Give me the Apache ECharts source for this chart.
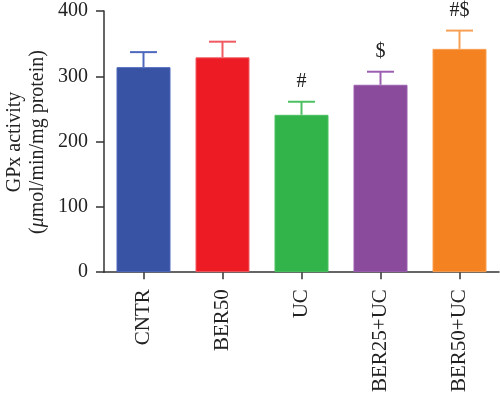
<!DOCTYPE html>
<html>
<head>
<meta charset="utf-8">
<script src="https://cdn.jsdelivr.net/npm/echarts@6/dist/echarts.min.js"></script>
<style>html,body{margin:0;padding:0;background:#fff}#c{width:500px;height:395px}</style>
</head>
<body>
<div id="c"></div>
<script>
var categories = ['CNTR', 'BER50', 'UC', 'BER25+UC', 'BER50+UC'];
var means = [314, 329, 241, 287, 342];
var sem = [23, 24, 20, 20, 28];
var marks = ['', '', '#', '$', '#$'];
var yTicks = [0, 100, 200, 300, 400];
var barColors = ['#3953a4', '#ed1c24', '#33b44a', '#8b4b9c', '#f58220'];
var errColors = ['#4d68bd', '#f05a62', '#4cc062', '#9b5fb0', '#f7a055'];

var FONT = '"Liberation Serif", "DejaVu Serif", serif';
var chart = echarts.init(document.getElementById('c'), null, {renderer: 'canvas'});
chart.setOption({
  animation: false,
  grid: {left: 104, right: 1, top: 11, bottom: 120, containLabel: false},
  graphic: [{
    type: 'text',
    x: 26, y: 142,
    rotation: Math.PI / 2,
    style: {
      text: '{a|GPx activity}\n{a|(}{i|μ}{a|mol/min/mg protein)}',
      align: 'center',
      verticalAlign: 'middle',
      fontSize: 20,
      fontFamily: FONT,
      fill: '#222',
      lineHeight: 23,
      rich: {
        a: {fontSize: 20, fontFamily: FONT, fill: '#222', lineHeight: 23},
        i: {fontSize: 20, fontFamily: FONT, fontStyle: 'italic', fill: '#222', lineHeight: 23}
      }
    }
  }],
  xAxis: {
    type: 'category',
    data: categories,
    axisLine: {lineStyle: {color: '#333', width: 1.5}},
    axisTick: {show: true, alignWithLabel: true, length: 7, lineStyle: {color: '#333', width: 1.5}},
    axisLabel: {rotate: 90, margin: 17, color: '#222', fontSize: 21, fontFamily: FONT, interval: 0}
  },
  yAxis: {
    type: 'value',
    min: 0, max: 400, interval: 100,
    splitLine: {show: false},
    axisLine: {show: true, lineStyle: {color: '#333', width: 1.5}},
    axisTick: {show: true, inside: false, length: 8, lineStyle: {color: '#333', width: 1.5}},
    axisLabel: {margin: 16, color: '#222', fontSize: 20, fontFamily: FONT,
      formatter: function (v) { return yTicks.indexOf(v) >= 0 ? String(v) : ''; }}
  },
  series: [
    {
      type: 'bar',
      barWidth: 54,
      data: means.map(function (v, i) {
        return {value: v, itemStyle: {color: barColors[i], borderColor: errColors[i], borderWidth: 1}};
      }),
      z: 2
    },
    {
      type: 'custom',
      z: 3,
      data: means.map(function (v, i) { return [i, v, v + sem[i]]; }),
      renderItem: function (params, api) {
        var i = api.value(0);
        var base = api.coord([i, api.value(1)]);
        var top = api.coord([i, api.value(2)]);
        var half = 13.5;
        var col = errColors[i];
        var children = [
          {type: 'line', shape: {x1: base[0], y1: base[1], x2: top[0], y2: top[1]}, style: {stroke: col, lineWidth: 2}},
          {type: 'line', shape: {x1: top[0] - half, y1: top[1], x2: top[0] + half, y2: top[1]}, style: {stroke: col, lineWidth: 2}}
        ];
        if (marks[i]) {
          children.push({type: 'text', style: {text: marks[i], x: top[0], y: top[1] - 20, align: 'center', verticalAlign: 'middle',
            fontSize: 20, fontFamily: FONT, fill: '#222'}});
        }
        return {type: 'group', children: children};
      }
    }
  ]
});
</script>
</body>
</html>
